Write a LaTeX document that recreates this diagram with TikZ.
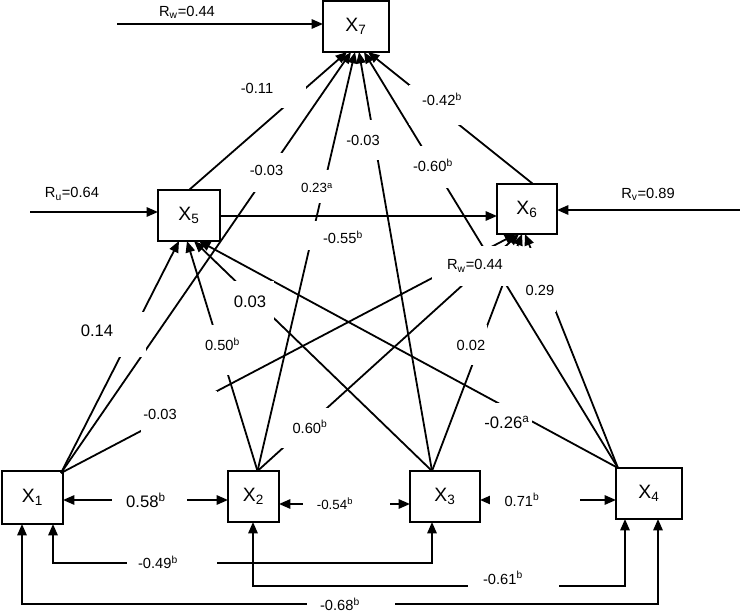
\documentclass[tikz,border=0pt]{standalone}
\usepackage{fontspec}
\setmainfont{Liberation Sans}
\usetikzlibrary{arrows.meta,calc}
\tikzset{
  Tr/.tip={Triangle[length=8.5pt,width=7pt]},
  box/.style={draw, line width=0.8pt, inner sep=0pt, outer sep=0pt, font=\fontsize{14.5}{16}\selectfont},
  edge/.style={line width=1.35pt, -Tr},
  dbl/.style={line width=1.35pt, Tr-Tr},
  lab/.style={fill=white, inner sep=1.5pt, font=\fontsize{11}{13}\selectfont},
  big/.style={font=\fontsize{12.5}{15}\selectfont},
  small/.style={font=\fontsize{10}{12}\selectfont},
}
\begin{document}
\begin{tikzpicture}[x=0.75pt,y=-0.75pt]
\useasboundingbox (0,0) rectangle (740,613);

% boxes
\node[box, minimum width=49.5pt,  minimum height=38.25pt] (X7) at (356,26.5)   {X\textsubscript{7}};
\node[box, minimum width=46.5pt,  minimum height=38.25pt] (X5) at (189,215.5)  {X\textsubscript{5}};
\node[box, minimum width=45pt,    minimum height=37.5pt]  (X6) at (527,209)    {X\textsubscript{6}};
\node[box, minimum width=45.75pt, minimum height=39.75pt] (X1) at (32.5,497.5) {X\textsubscript{1}};
\node[box, minimum width=38.25pt, minimum height=38.25pt] (X2) at (253.5,496.5){X\textsubscript{2}};
\node[box, minimum width=52.5pt,  minimum height=38.25pt] (X3) at (445,496.5)  {X\textsubscript{3}};
\node[box, minimum width=49.5pt,  minimum height=38.25pt] (X4) at (649,493.5)  {X\textsubscript{4}};

% start points
\coordinate (s1) at ($(X1.north east)+(-2,2)$);
\coordinate (s2) at ($(X2.north)+(4,0)$);
\coordinate (s3) at ($(X3.north)+(-13,0)$);
\coordinate (s4) at ($(X4.north west)+(2,0)$);
\coordinate (rw) at (117,24);
\coordinate (ru) at (30,212);
\coordinate (rv) at (740,210);

% residual inputs
\draw[edge] (rw) -- (X7.west |- rw);
\draw[edge] (ru) -- (X5.west |- ru);
\draw[edge] (rv) -- (X6.east |- rv);
\draw[edge] ($(X5.east)+(0,0.5)$) -- ($(X6.west)+(0,7)$);

% into X7
\draw[edge] (X5.north) -- ($(X7.south)+(-9,0)$);
\draw[edge] (s1) -- ($(X7.south)+(-5,0)$);
\draw[edge] (s2) -- ($(X7.south)+(-1,0)$);
\draw[edge] (s3) -- ($(X7.south)+(3,0)$);
\draw[edge] (s4) -- ($(X7.south)+(8,0)$);
\draw[edge] ($(X6.north)+(6,0)$) -- ($(X7.south)+(12,0)$);

% into X5
\draw[edge] (s1) -- ($(X5.south)+(-10,0)$);
\draw[edge] (s2) -- ($(X5.south)+(-2,0)$);
\draw[edge] (s3) -- ($(X5.south)+(5,0)$);
\draw[edge] (s4) -- ($(X5.south)+(10,0)$);

% into X6
\draw[edge] (s1) -- ($(X6.south)+(-11,0)$);
\draw[edge] (s2) -- ($(X6.south)+(-8,0)$);
\draw[edge] (s3) -- ($(X6.south)+(-5,0)$);
\draw[edge] (s4) -- ($(X6.south)+(-2,0)$);

% correlations among X1..X4
\draw[dbl] ($(X1.east)+(0,2.5)$) -- ($(X2.west)+(0,3.5)$);
\draw[dbl] ($(X2.east)+(0,7.5)$) -- ($(X3.west)+(0,7.5)$);
\draw[dbl] ($(X3.east)+(0,3.5)$) -- ($(X4.west)+(0,6.5)$);
\draw[dbl] ($(X1.south)+(20.5,0)$) -- ++(0,39) -| ($(X3.south)+(-13,0)$);
\draw[dbl] ($(X2.south)+(-0.5,0)$) -- ++(0,64) -| ($(X4.south)+(-24,0)$);
\draw[dbl] ($(X1.south)+(-10.5,0)$) -- ++(0,80) -| ($(X4.south)+(9,0)$);

% labels
\node[lab] (lrw7) at (187,12) {R\textsubscript{w}=0.44};
\node[lab] (lru) at (72,194) {R\textsubscript{u}=0.64};
\node[lab] (lrv) at (648,194) {R\textsubscript{v}=0.89};
\node[lab, minimum width=64.5pt, text height=16.5pt, text depth=10.5pt] (lrw6) at (475,266) {R\textsubscript{w}=0.44};
\node[lab, text height=34pt, text depth=10.9pt] (l29) at (540,280) {0.29};
\node[lab, text height=8.6pt, text depth=9.4pt] (l11) at (272.5,94) {-0.11\hspace*{23.25pt}};
\node[lab, text height=15.75pt, text depth=10.5pt] (l17) at (266.5,172.5) {-0.03};
\node[lab, small, text height=15.75pt, text depth=6pt] (l27) at (317,186.5) {0.23\textsuperscript{a}};
\node[lab, text height=18pt, text depth=9pt] (l37) at (363,140) {-0.03};
\node[lab, text height=18pt, text depth=10.5pt] (l47) at (433,167) {-0.60\textsuperscript{b}};
\node[lab, text height=14.25pt, text depth=12.75pt] (l67) at (436.5,105) {\hspace*{8.25pt}-0.42\textsuperscript{b}};
\node[lab, text height=15.75pt, text depth=3pt] (l56) at (334.5,235.5) {\hspace*{12.75pt}-0.55\textsuperscript{b}};
\node[lab, big, text height=17.25pt, text depth=13.5pt] (l15) at (112.5,334.5) {0.14\hspace*{23.25pt}};
\node[lab, text height=18pt, text depth=16.5pt] (l25) at (222.5,350) {0.50\textsuperscript{b}};
\node[lab, big, text height=18.75pt, text depth=10.5pt] (l35) at (253,302.5) {0.03\hspace*{4.5pt}};
\node[lab, text height=19.5pt, text depth=9.75pt] (l16) at (179,412.5) {-0.03\hspace*{28.5pt}};
\node[lab, text height=17.25pt, text depth=9.75pt] (l26) at (303.5,428) {\hspace*{9.75pt}0.60\textsuperscript{b}};
\node[lab, text height=17.25pt, text depth=9.75pt] (l36) at (471,345) {0.02};
\node[lab, big, text height=17.25pt, text depth=7.5pt] (l45) at (507,421.5) {-0.26\textsuperscript{a}};

\node[lab, big, minimum width=56.25pt] (l12) at (149.5,500) {0.58\textsuperscript{b}\hspace*{5.25pt}};
\node[lab, small, minimum width=65.25pt] (l23) at (346.5,504) {-0.54\textsuperscript{b}\hspace*{17.25pt}};
\node[lab, minimum width=67.5pt] (l34) at (535,500) {0.71\textsuperscript{b}\hspace*{19.5pt}};
\node[lab, minimum width=67.5pt, text depth=2.5pt] (l13) at (172,564) {-0.49\textsuperscript{b}\hspace*{21pt}};
\node[lab, minimum width=68.25pt, text height=9pt, text depth=3pt] (l24) at (513.5,580) {-0.61\textsuperscript{b}\hspace*{15.75pt}};
\node[lab, minimum width=66pt] (l14) at (351,604) {-0.68\textsuperscript{b}\hspace*{16.5pt}};
\end{tikzpicture}
\end{document}
